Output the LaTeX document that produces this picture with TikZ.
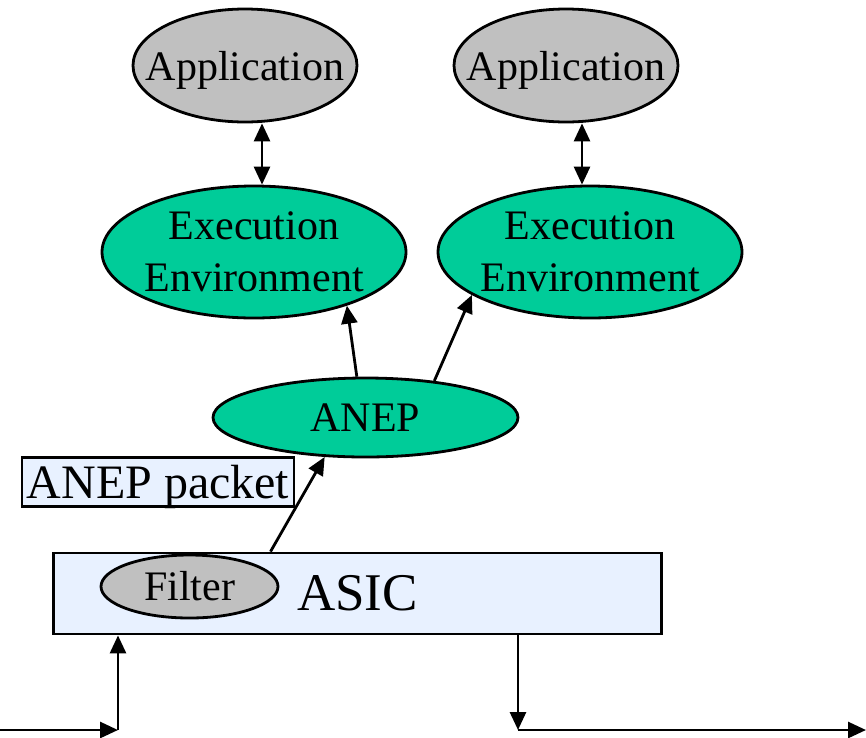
\documentclass[tikz,border=0pt]{standalone}
\usepackage{fontspec}
\setmainfont{Liberation Serif}
\usetikzlibrary{arrows.meta, shapes.geometric, positioning}
\definecolor{appgray}{RGB}{192,192,192}
\definecolor{eegreen}{RGB}{0,204,153}
\definecolor{asicblue}{RGB}{232,241,255}
\begin{document}
\begin{tikzpicture}[x=1pt, y=-1pt, line width=2.8pt,
  oval/.style={ellipse, draw=black, fill=#1, inner xsep=-40pt, inner ysep=-10pt,
               font=\fontsize{42}{52}\selectfont, align=center},
  box/.style={rectangle, draw=black, fill=asicblue, inner sep=0pt},
  arr/.style={-{Triangle[length=18pt, width=16pt]}},
  dbl/.style={{Triangle[length=18pt, width=16pt]}-{Triangle[length=18pt, width=16pt]}}
]
\useasboundingbox (0,0) rectangle (866,737);
\node[oval=appgray, minimum width=224pt, minimum height=113pt, text depth=0pt] (app1) at (245,65.5) {Application};
\node[oval=appgray, minimum width=224pt, minimum height=113pt, text depth=0pt] (app2) at (566,65.5) {Application};
\node[oval=eegreen, minimum width=304pt, minimum height=132pt] (ee1) at (254,252) {Execution\\Environment};
\node[oval=eegreen, minimum width=304pt, minimum height=132pt] (ee2) at (590,252) {Execution\\Environment};
\node[oval=eegreen, minimum width=305pt, minimum height=79pt]  (anep) at (365.5,417.5) {ANEP};
\node[box, minimum width=272pt, minimum height=49pt, text depth=0pt,
      font=\fontsize{48}{52}\selectfont] (pkt) at (158,482) {ANEP packet};
\node[box, minimum width=608pt, minimum height=81pt,
      font=\fontsize{53}{60}\selectfont] (asic) at (357.5,593.5) {ASIC};
\node[oval=appgray, minimum width=177pt, minimum height=63pt] (filt) at (189.5,586.5) {Filter};
\draw[dbl] ([xshift=17pt]app1.south) -- ([xshift=8pt]ee1.north);
\draw[dbl] ([xshift=16pt]app2.south) -- ([xshift=-8pt]ee2.north);
\draw[arr] (anep.102) -- (ee1.-30);
\draw[arr] (anep.28) -- (ee2.-160);
\draw[arr] ([xshift=-87pt]asic.north) -- (anep.-136);
\coordinate (inp)  at (0,730);
\coordinate (inc)  at (118,730);
\coordinate (outc) at (518,730);
\coordinate (outp) at (866,730);
\draw[arr] (inp) -- (inc);
\draw[arr] (inc) -- (inc |- asic.south);
\draw[arr] (asic.south -| outc) -- (outc);
\draw[arr] (outc) -- (outp);
\end{tikzpicture}
\end{document}
